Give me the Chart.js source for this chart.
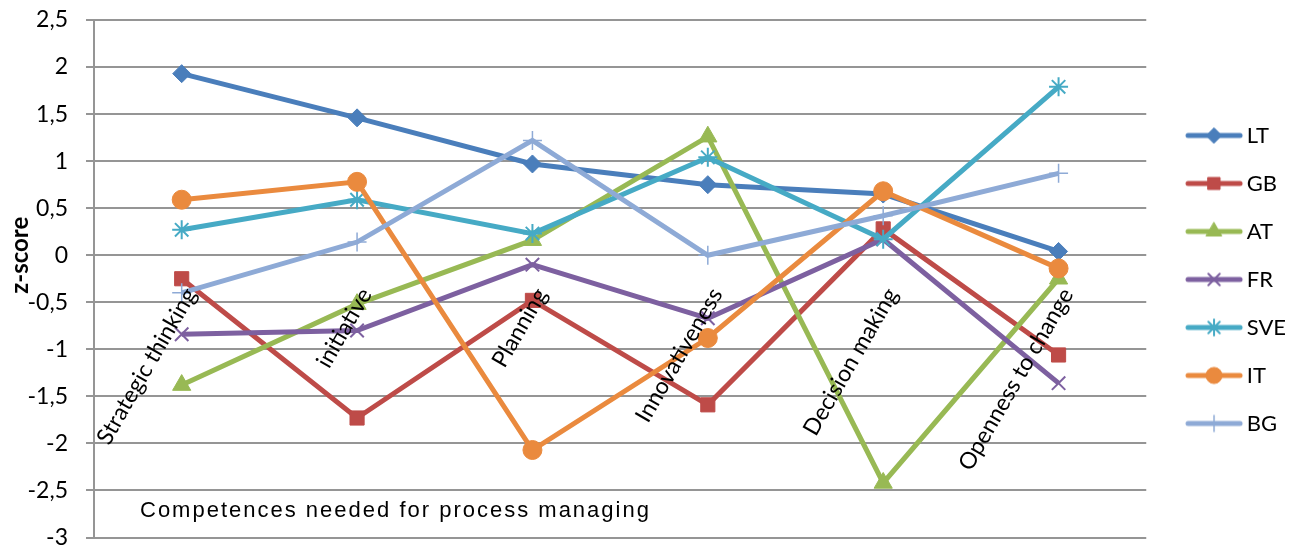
<!DOCTYPE html>
<html>
<head>
<meta charset="utf-8">
<script src="https://cdn.jsdelivr.net/npm/chart.js@4/dist/chart.umd.min.js"></script>
<style>
  html, body { margin: 0; padding: 0; background: #fff; }
  #wrap { width: 1296px; height: 549px; }
</style>
</head>
<body>
<div id="wrap"><canvas id="chart"></canvas></div>
<script>
const categories = ['Strategic thinking', 'initiative', 'Planning', 'Innovativeness', 'Decision making', 'Openness to change'];

const ltValues  = [1.93, 1.46, 0.97, 0.75, 0.65, 0.04];
const gbValues  = [-0.25, -1.73, -0.48, -1.59, 0.28, -1.06];
const atValues  = [-1.38, -0.52, 0.16, 1.26, -2.42, -0.25];
const frValues  = [-0.84, -0.80, -0.10, -0.67, 0.17, -1.36];
const sveValues = [0.27, 0.59, 0.23, 1.04, 0.17, 1.79];
const itValues  = [0.59, 0.78, -2.07, -0.88, 0.68, -0.14];
const bgValues  = [-0.40, 0.14, 1.22, 0.00, 0.42, 0.87];

const yTickLabels = ['-3', '-2,5', '-2', '-1,5', '-1', '-0,5', '0', '0,5', '1', '1,5', '2', '2,5'];
const yAxisTitle = 'z-score';
const xAxisTitle = 'Competences needed for process managing';

const gridColor = '#959595';

const series = [
  { name: 'LT',  data: ltValues,  color: '#4a7ebb', style: 'rectRot',  radius: 9,   bw: 1 },
  { name: 'GB',  data: gbValues,  color: '#be4b48', style: 'rect',     radius: 10,  bw: 1 },
  { name: 'AT',  data: atValues,  color: '#98b954', style: 'triangle', radius: 10.5, bw: 1 },
  { name: 'FR',  data: frValues,  color: '#7d60a0', style: 'crossRot', radius: 9.5, bw: 2 },
  { name: 'SVE', data: sveValues, color: '#46aac5', style: 'star',     radius: 9.5, bw: 2 },
  { name: 'IT',  data: itValues,  color: '#ea8a3e', style: 'circle',   radius: 9.5, bw: 1 },
  { name: 'BG',  data: bgValues,  color: '#8eaad6', style: 'cross',    radius: 9.5, bw: 1.5 }
];

// small canvas used as legend symbol: line with the marker in the middle
function legendIcon(s) {
  const c = document.createElement('canvas');
  c.width = 100;
  c.height = 26;
  const g = c.getContext('2d');
  g.strokeStyle = s.color;
  g.fillStyle = s.color;
  g.lineWidth = 5;
  g.lineCap = 'round';
  g.beginPath();
  g.moveTo(34, 13);
  g.lineTo(86, 13);
  g.stroke();
  g.lineWidth = s.bw;
  Chart.helpers.drawPoint(g, { pointStyle: s.style, radius: s.radius * 0.85, rotation: 0, borderWidth: s.bw }, 60, 13);
  return c;
}

const extraText = {
  id: 'extraText',
  afterDatasetsDraw(chart) {
    const { ctx, scales: { x, y }, chartArea } = chart;
    const y0 = y.getPixelForValue(0);
    ctx.save();
    ctx.fillStyle = '#000';

    // category labels, sitting on the zero line like Excel does
    ctx.font = '23px Lato';
    ctx.textAlign = 'right';
    ctx.textBaseline = 'middle';
    categories.forEach((c, i) => {
      const px = x.getPixelForValue(i);
      ctx.save();
      ctx.translate(px + 9, y0 + 35);
      ctx.rotate(-Math.PI / 3);
      ctx.fillText(c, 0, 0);
      ctx.restore();
    });

    // axis title inside the plot
    ctx.font = '22px "Liberation Sans"';
    ctx.textAlign = 'left';
    ctx.letterSpacing = '2px';
    ctx.fillText(xAxisTitle, chartArea.left + 46, y.getPixelForValue(-2.72));
    ctx.letterSpacing = '0px';

    // y title
    ctx.font = 'bold 24px Lato';
    ctx.textAlign = 'center';
    ctx.save();
    ctx.translate(20, y0);
    ctx.rotate(-Math.PI / 2);
    ctx.fillText(yAxisTitle, 0, 0);
    ctx.restore();

    ctx.restore();
  }
};

const icons = series.map(legendIcon);

new Chart(document.getElementById('chart'), {
  type: 'line',
  data: {
    labels: categories,
    datasets: series.map((s, i) => ({
      label: s.name,
      data: s.data,
      borderColor: s.color,
      backgroundColor: s.color,
      borderWidth: 5,
      pointStyle: s.style,
      pointRadius: s.radius,
      pointBackgroundColor: s.color,
      pointBorderColor: s.color,
      pointBorderWidth: s.bw,
      tension: 0,
      clip: false,
      order: series.length - i
    }))
  },
  options: {
    responsive: true,
    maintainAspectRatio: false,
    animation: false,
    layout: { padding: { top: 20, bottom: 10, left: 0, right: 0 } },
    scales: {
      x: {
        type: 'category',
        offset: true,
        display: false
      },
      y: {
        min: -3,
        max: 2.5,
        ticks: {
          stepSize: 0.5,
          color: '#000',
          padding: 18,
          font: { family: 'Lato', size: 23 },
          callback: (v) => yTickLabels[Math.round((v + 3) * 2)]
        },
        grid: { color: gridColor, lineWidth: 2, tickLength: 8 },
        border: { color: gridColor, width: 2 },
        afterFit: (s) => {
          s.width = 94;
          s.paddingTop = 0;
          s.paddingBottom = 0;
        }
      }
    },
    plugins: {
      legend: {
        position: 'right',
        maxWidth: 157,
        labels: {
          usePointStyle: true,
          pointStyleWidth: 63.5,
          padding: 26,
          color: '#000',
          font: { family: 'Lato', size: 22 },
          generateLabels: () => series.map((s, i) => ({
            text: s.name,
            pointStyle: icons[i],
            fillStyle: s.color,
            strokeStyle: s.color,
            lineWidth: 0,
            hidden: false,
            datasetIndex: i
          }))
        }
      },
      tooltip: { enabled: false }
    }
  },
  plugins: [extraText]
});
</script>
</body>
</html>
